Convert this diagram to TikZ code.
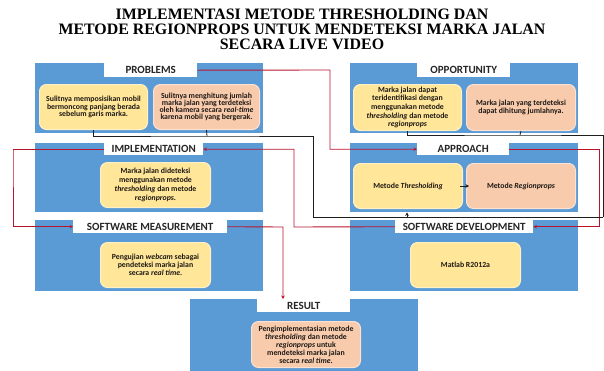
\documentclass[tikz,border=0pt]{standalone}
\usepackage{fontspec}
\setmainfont{Carlito}
\newfontfamily\headfont{Liberation Serif}
\usetikzlibrary{arrows.meta}

\definecolor{panelblue}{RGB}{91,155,213}
\definecolor{boxyellow}{RGB}{255,230,153}
\definecolor{boxpeach}{RGB}{248,203,173}
\definecolor{linkred}{RGB}{185,20,45}
\definecolor{linkdark}{RGB}{30,30,30}
\definecolor{bodytext}{RGB}{30,25,20}

\newcommand{\cardfont}[1]{\fontsize{7.8}{#1}\selectfont\bfseries}

\begin{document}
\begin{tikzpicture}[x=1pt,y=-1pt,
  panel/.style={fill=panelblue, anchor=north west, inner sep=0pt, minimum width=228pt},
  ttl/.style={fill=white, anchor=north west, inner sep=0pt, minimum height=14pt,
    font=\fontsize{11}{12}\selectfont\bfseries, text=black!85},
  card/.style={anchor=north west, inner sep=1pt, rounded corners=7pt, align=center,
    line width=1pt, font=\cardfont{8.4}, text=bodytext},
  ycard/.style={card, fill=boxyellow, draw=boxyellow!55!white},
  pcard/.style={card, fill=boxpeach, draw=boxpeach!55!white},
  redlink/.style={draw=linkred, line width=0.9pt},
  redarrow/.style={redlink, -{Stealth[length=3.5pt,width=3.5pt]}},
  darklink/.style={draw=linkdark, line width=0.8pt},
  darkarrow/.style={darklink, -{Stealth[length=3.5pt,width=3.5pt]}}
]
\useasboundingbox (0,0) rectangle (604,370);

% heading
\node[font=\headfont\fontsize{15.9}{15}\selectfont\bfseries, align=center, anchor=north]
  (head) at (302,5.5) {IMPLEMENTASI METODE THRESHOLDING DAN\\
  METODE REGIONPROPS UNTUK MENDETEKSI MARKA JALAN\\SECARA LIVE VIDEO};

% panels
\node[panel, minimum height=70pt] (pprob) at (35,63) {};
\node[panel, minimum height=70pt] (popp) at (350,63) {};
\node[panel, minimum height=69pt] (pimpl) at (35,143) {};
\node[panel, minimum height=69pt] (pappr) at (350,143) {};
\node[panel, minimum height=71pt] (pmeas) at (35,220) {};
\node[panel, minimum height=71pt] (pdev) at (350,220) {};
\node[panel, minimum height=75pt] (pres) at (190,299) {};

% panel titles
\node[ttl, minimum width=93pt] (tprob) at (104,63) {PROBLEMS};
\node[ttl, minimum width=93pt] (topp) at (417,63) {OPPORTUNITY};
\node[ttl, minimum width=99pt, minimum height=12pt] (timpl) at (104,143) {IMPLEMENTATION};
\node[ttl, minimum width=92pt, minimum height=12pt] (tappr) at (417,143) {APPROACH};
\node[ttl, minimum width=154pt, minimum height=13pt] (tmeas) at (73,220) {SOFTWARE MEASUREMENT};
\node[ttl, minimum width=138pt, minimum height=13pt] (tdev) at (395,220) {SOFTWARE DEVELOPMENT};
\node[ttl, minimum width=93pt, minimum height=13pt] (tres) at (257,299) {RESULT};

% cards
\node[ycard, minimum width=108pt, minimum height=45pt, font=\cardfont{7.2}] (cprobA) at (39,84)
  {Sulitnya memposisikan mobil\\bermoncong panjang berada\\sebelum garis marka.};
\node[pcard, minimum width=106pt, minimum height=45pt, font=\cardfont{7.2}] (cprobB) at (153,84)
  {Sulitnya menghitung jumlah\\marka jalan yang terdeteksi\\oleh kamera secara \textit{real-time}\\karena mobil yang bergerak.};
\node[ycard, minimum width=108pt, minimum height=46pt, font=\cardfont{8.6}] (coppA) at (353,84)
  {Marka jalan dapat\\teridentifikasi dengan\\menggunakan metode\\\textit{thresholding} dan metode\\\textit{regionprops}};
\node[pcard, minimum width=109pt, minimum height=46pt, font=\cardfont{8.6}] (coppB) at (466,84)
  {Marka jalan yang terdeteksi\\dapat dihitung jumlahnya.};
\node[ycard, minimum width=110pt, minimum height=45pt, font=\cardfont{9}] (cimpl) at (100,162)
  {Marka jalan dideteksi\\menggunakan metode\\\textit{thresholding} dan metode\\\textit{regionprops}.};
\node[ycard, minimum width=109pt, minimum height=45pt] (capprA) at (353,163)
  {Metode \textit{Thresholding}};
\node[pcard, minimum width=109pt, minimum height=45pt] (capprB) at (466,163)
  {Metode \textit{Regionprops}};
\node[ycard, minimum width=110pt, minimum height=45pt, font=\cardfont{7.8}] (cmeas) at (100,242)
  {Pengujian \textit{webcam} sebagai\\pendeteksi marka jalan\\secara \textit{real time}.};
\node[ycard, minimum width=110pt, minimum height=45pt] (cdev) at (410,242)
  {Matlab R2012a};
\node[pcard, minimum width=109pt, minimum height=46pt, font=\cardfont{8}] (cres) at (251,321)
  {Pengimplementasian metode\\\textit{thresholding} dan metode\\\textit{regionprops} untuk\\mendeteksi marka jalan\\secara \textit{real time}.};

% flow between stages
\coordinate (bendA) at (330,70);
\coordinate (bendB) at (599,149);
\coordinate (bendC) at (294,227);
\coordinate (bendD) at (13,149);
\coordinate (bendE) at (283,227);
\draw[redarrow] (tprob.east) -- (bendA) |- (tappr.west);
\draw[redarrow] (tappr.east) -| (bendB) |- (tdev.east);
\draw[redarrow] (tdev.west) -- (bendC) |- (timpl.east);
\draw[redarrow] (timpl.west) -| (bendD) |- (tmeas.west);
\draw[redarrow] (tmeas.east) -- (bendE) -- (bendE |- tres.north);

% problems and opportunities feed the approach
\coordinate (jp) at (207,136);
\coordinate (jq) at (313,136);
\coordinate (jr) at (313,217);
\coordinate (jo) at (520,135);
\coordinate (js) at (603,135);
\coordinate (jt) at (603,217);
\coordinate (ju) at (407,217);
\draw[darklink] (cprobA.south) |- (jp) -- (jq) -- (jr) -- (jt);
\draw[darklink] (cprobB.south) -- (jp);
\draw[darklink] (coppA.south) |- (jo) -- (js) -- (jt);
\draw[darklink] (coppB.south) -- (jo);
\draw[darkarrow] (ju) -- (ju |- pappr.south);

% inside the approach panel
\draw[darkarrow] ([xshift=-3pt]capprA.east) -- ([xshift=3pt]capprB.west);
\end{tikzpicture}
\end{document}
